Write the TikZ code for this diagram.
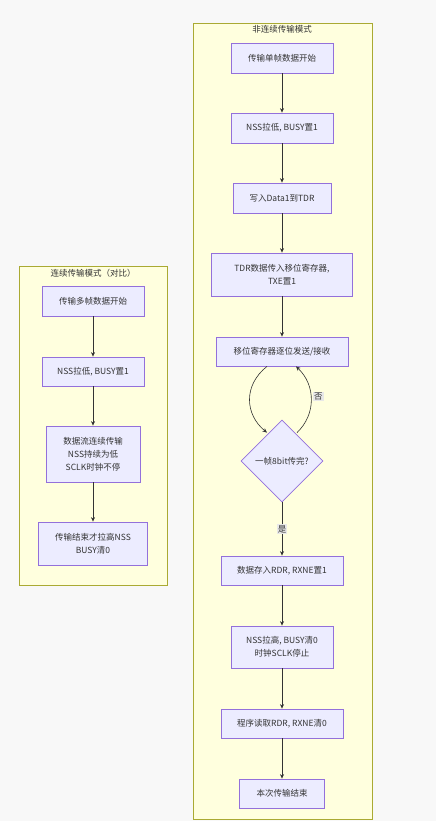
\documentclass[tikz,border=0pt]{standalone}
\usepackage{fontspec}
\setmainfont{Noto Sans CJK SC}
\usetikzlibrary{shapes.geometric, arrows.meta}
\definecolor{nodefill}{HTML}{ECECFF}
\definecolor{nodeline}{HTML}{9370DB}
\definecolor{clusterfill}{HTML}{FFFFDE}
\definecolor{clusterline}{HTML}{AAAA33}
\definecolor{textcol}{HTML}{333333}
\definecolor{pagebg}{HTML}{F8F8F8}
\definecolor{labelbg}{HTML}{E8E8E8}
\begin{document}
\begin{tikzpicture}[x=1pt, y=-1pt,
        every node/.style={font=\fontsize{8.5}{13}\selectfont, text=textcol},
        box/.style={draw=nodeline, fill=nodefill, line width=0.8pt, align=center, inner sep=2pt},
        decision/.style={draw=nodeline, fill=nodefill, line width=0.8pt, diamond, aspect=1, minimum size=82pt, inner sep=0pt, align=center},
        cluster/.style={draw=clusterline, fill=clusterfill, line width=0.8pt},
        flow/.style={draw=textcol, line width=0.6pt, -{Stealth[length=4.5pt, width=4pt]}},
        tag/.style={fill=labelbg, inner sep=1pt}]

        % page and clusters
        \fill[pagebg] (0,0) rectangle (436,821);
        \path[cluster] (193,23) rectangle (372,819);
        \path[cluster] (19,266) rectangle (167,585);
        \node (T1) at (282,29) {非连续传输模式};
        \node (T2) at (93,273) {连续传输模式（对比）};

        % non-continuous mode
        \node[box, minimum width=102pt, minimum height=30pt] (N1) at (282,58)  {传输单帧数据开始};
        \node[box, minimum width=102pt, minimum height=30pt] (N2) at (282,128) {NSS拉低, BUSY置1};
        \node[box, minimum width=98pt,  minimum height=30pt] (N3) at (282,198) {写入Data1到TDR};
        \node[box, minimum width=141pt, minimum height=43pt] (N4) at (282,274.5) {TDR数据传入移位寄存器,\\TXE置1};
        \node[box, minimum width=132pt, minimum height=29pt] (N5) at (282,351.5) {移位寄存器逐位发送/接收};
        \node[decision] (D) at (282,461) {一帧8bit传完?};
        \node[box, minimum width=122pt, minimum height=29pt] (N6) at (282,570.5) {数据存入RDR, RXNE置1};
        \node[box, minimum width=102pt, minimum height=42pt] (N7) at (282,647) {NSS拉高, BUSY清0\\时钟SCLK停止};
        \node[box, minimum width=122pt, minimum height=29pt] (N8) at (282,723.5) {程序读取RDR, RXNE清0};
        \node[box, minimum width=85pt,  minimum height=29pt] (N9) at (282,793.5) {本次传输结束};

        % continuous mode
        \node[box, minimum width=102pt, minimum height=30pt] (L1) at (93,301) {传输多帧数据开始};
        \node[box, minimum width=102pt, minimum height=29pt] (L2) at (93,371.5) {NSS拉低, BUSY置1};
        \node[box, minimum width=94pt,  minimum height=56pt] (L3) at (93,454) {数据流连续传输\\NSS持续为低\\SCLK时钟不停};
        \node[box, minimum width=109pt, minimum height=43pt] (L4) at (93,543.5) {传输结束才拉高NSS\\BUSY清0};

        % links
        \draw[flow] (N1) -- (N2);
        \draw[flow] (N2) -- (N3);
        \draw[flow] (N3) -- (N4);
        \draw[flow] (N4) -- (N5);
        \draw[flow] ([xshift=-15pt]N5.south) .. controls +(-24,19) and +(-22,-18) .. ([xshift=-15pt, yshift=-13pt]D.north);
        \draw[flow] ([xshift=15pt, yshift=-13pt]D.north) .. controls +(19,-18) and +(20,19) .. ([xshift=14pt]N5.south)
            node[pos=0.55, right=2pt, tag] {否};
        \draw[flow] (D) -- (N6) node[pos=0.5, tag] {是};
        \draw[flow] (N6) -- (N7);
        \draw[flow] (N7) -- (N8);
        \draw[flow] (N8) -- (N9);

        \draw[flow] (L1) -- (L2);
        \draw[flow] (L2) -- (L3);
        \draw[flow] (L3) -- (L4);
    \end{tikzpicture}
\end{document}
